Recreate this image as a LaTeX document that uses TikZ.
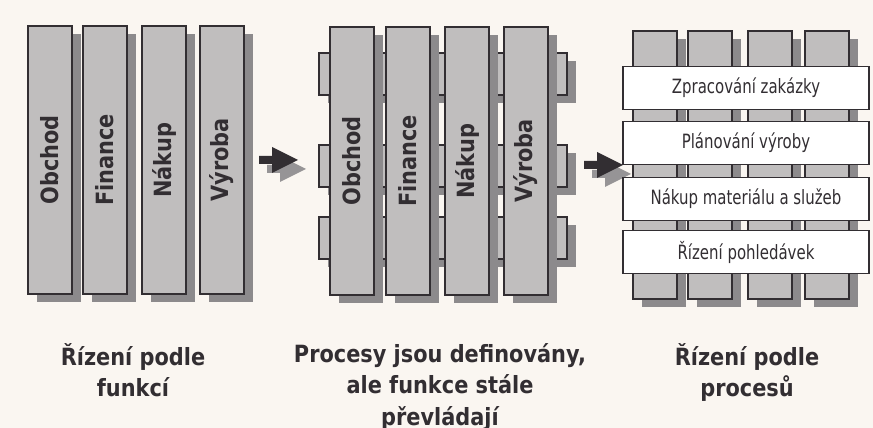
\documentclass[tikz,border=0pt]{standalone}
\usepackage{fontspec}
\setmainfont{DejaVu Sans}[FakeStretch=0.88]
\newfontfamily\procfont{DejaVu Sans}[FakeStretch=0.76]
\usetikzlibrary{shadows}
\definecolor{paper}{RGB}{250,246,241}
\definecolor{colfill}{RGB}{192,190,190}
\definecolor{colshade}{RGB}{140,138,140}
\definecolor{ink}{RGB}{50,46,50}
\definecolor{arrowshade}{RGB}{150,148,150}

\begin{document}
\begin{tikzpicture}[x=0.02cm, y=-0.02cm,
    shade/.style={drop shadow={shadow xshift=0.18cm, shadow yshift=-0.16cm,
                               fill=colshade, opacity=1}},
    col/.style={draw=ink, line width=0.8pt, fill=colfill, shade,
                minimum width=0.88cm, minimum height=5.36cm, inner sep=0pt,
                font=\fontsize{13.5}{15}\selectfont\bfseries, text=ink},
    bar/.style={draw=ink, line width=0.8pt, fill=colfill, shade,
                minimum width=4.96cm, minimum height=0.84cm},
    proc/.style={draw=ink, line width=0.8pt, fill=white,
                 minimum width=4.92cm, minimum height=0.86cm,
                 font=\procfont\fontsize{11.2}{13}\selectfont, text=ink},
    caption/.style={font=\fontsize{13.5}{18}\selectfont\bfseries, text=ink,
                    align=center, anchor=north, inner sep=0pt},
    blockarrow/.style={fill=#1}]

  %% Page
  \useasboundingbox (0,0) rectangle (873,428);
  \clip (0,0) rectangle (873,428);
  \fill[paper] (0,0) rectangle (873,428);

  %% Arrows between panels
  \coordinate (tipA) at (298,160);
  \coordinate (tipB) at (623,165);
  \fill[blockarrow=arrowshade, shift={(tipA)}, xshift=0.16cm, yshift=-0.18cm]
    (0,0) -- (-26,-13) -- (-26,-4) -- (-39,-4) -- (-39,4) -- (-26,4) -- (-26,13) -- cycle;
  \fill[blockarrow=ink, shift={(tipA)}]
    (0,0) -- (-26,-13) -- (-26,-4) -- (-39,-4) -- (-39,4) -- (-26,4) -- (-26,13) -- cycle;
  \fill[blockarrow=arrowshade, shift={(tipB)}, xshift=0.16cm, yshift=-0.18cm]
    (0,0) -- (-26,-13) -- (-26,-4) -- (-39,-4) -- (-39,4) -- (-26,4) -- (-26,13) -- cycle;
  \fill[blockarrow=ink, shift={(tipB)}]
    (0,0) -- (-26,-13) -- (-26,-4) -- (-39,-4) -- (-39,4) -- (-26,4) -- (-26,13) -- cycle;

  %% Left: functions only
  \node[col] (obchodA)  at (50,160)  {\rotatebox{90}{Obchod}};
  \node[col] (financeA) at (105,160) {\rotatebox{90}{Finance}};
  \node[col] (nakupA)   at (164,160) {\rotatebox{90}{Nákup}};
  \node[col] (vyrobaA)  at (222,160) {\rotatebox{90}{Výroba}};

  %% Middle: processes behind functions
  \node[bar] (barA) at (443,74) {};
  \node[bar] (barB) at (443,166) {};
  \node[bar] (barC) at (443,238) {};
  \node[col] (obchodB)  at (352,161) {\rotatebox{90}{Obchod}};
  \node[col] (financeB) at (408,161) {\rotatebox{90}{Finance}};
  \node[col] (nakupB)   at (467,161) {\rotatebox{90}{Nákup}};
  \node[col] (vyrobaB)  at (526,161) {\rotatebox{90}{Výroba}};

  %% Right: processes in front
  \node[col] (colA) at (655,165) {};
  \node[col] (colB) at (710,165) {};
  \node[col] (colC) at (770,165) {};
  \node[col] (colD) at (827,165) {};
  \node[proc] (zakazky)    at (746,88)  {Zpracování zakázky};
  \node[proc] (planovani)  at (746,143) {Plánování výroby};
  \node[proc] (material)   at (746,199) {Nákup materiálu a služeb};
  \node[proc] (pohledavky) at (746,252) {Řízení pohledávek};

  %% Captions
  \node[caption] (capA) at (133,343) {Řízení podle\\funkcí};
  \node[caption] (capB) at (440,343) {Procesy jsou definovány,\\ale funkce stále\\převládají};
  \node[caption] (capC) at (747,343) {Řízení podle\\procesů};
\end{tikzpicture}
\end{document}
